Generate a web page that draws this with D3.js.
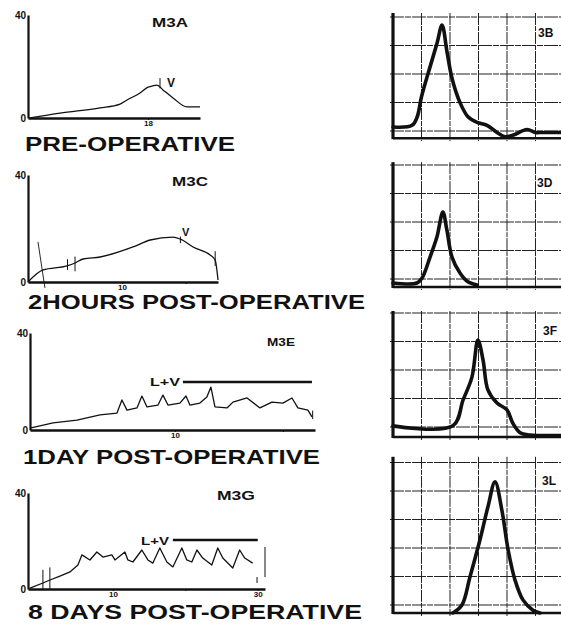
<!DOCTYPE html>
<html>
<head>
<meta charset="utf-8">
<script src="https://cdn.jsdelivr.net/npm/d3@7"></script>
<style>
body { margin: 0; background: #fff; }
text { font-family: "Liberation Sans", Arial, sans-serif; font-weight: bold; fill: #111; }
</style>
</head>
<body>
<svg width="561" height="627"></svg>
<script>
// left traces, [time, value]
var m3a = [[0.3,0],[4.8,1.9],[10.8,3.9],[13.8,5.4],[14.85,7.0],[16.8,9.7],[18,12.0],[18.6,12.4],[19.35,12.8],[20.25,10.9],[21.75,7.8],[23.85,4.3],[25.8,4.3]];
var m3c = [[0,0],[1.6,4.5],[4.15,6.0],[5.0,7.1],[5.85,8.6],[7.66,9.35],[11.17,13.1],[13.0,15.7],[15.4,16.8],[16.4,15.7],[17.55,13.1],[19.36,10.1],[19.9,8.2],[20.2,0.75]];
var m3e = [[0,0.8],[1.59,2.9],[3.24,4.1],[4.83,6.2],[6.0,7.0],[6.34,12.4],[6.69,8.2],[7.38,9.1],[7.72,14.0],[8.07,9.5],[8.83,10.3],[9.17,14.4],[9.52,10.3],[10.34,11.1],[10.76,14.0],[11.03,10.3],[11.72,11.1],[12.2,13.6],[12.48,17.7],[12.76,9.5],[13.59,9.1],[14.0,11.5],[14.97,13.2],[15.86,9.1],[16.69,11.5],[17.45,11.1],[18.07,13.2],[18.48,9.1],[19.17,8.2],[19.45,5.4]];
var m3g = [[-1.45,0.4],[0.34,2.5],[1.31,3.75],[2.69,5.4],[4.07,7.1],[5.17,10.0],[5.72,14.2],[6.83,12.1],[7.79,15.4],[8.62,13.3],[9.86,14.2],[10.28,12.1],[11.66,15.4],[12.07,12.1],[12.76,11.25],[14.0,16.25],[14.83,12.1],[15.52,10.8],[16.48,17.1],[17.45,11.25],[18.28,9.2],[19.52,17.1],[20.2,12.1],[20.9,11.25],[21.6,16.25],[22.4,12.9],[23.65,10.0],[24.48,17.1],[25.17,12.9],[26.55,8.75],[27.5,16.25],[28.2,12.9],[29.3,10.8]];

// pen marks on the left traces, [x, y1, y2]
var m3aMarks = [[19.8,11.5,15.5]];
var m3cMarks = [[4.2,4.5,8.5],[5.0,4.0,9.5],[16.2,14.5,17.0],[19.9,6.0,11.5]];
var m3eMarks = [[19.5,4.5,8.0]];
var m3gMarks = [[0.34,0,8],[1.3,0,9],[29.9,2.5,5],[31,5,17.5]];

// L+V bars, [x1, x2, y]
var m3eBar = [10.55, 19.45, 19.8];
var m3gBar = [18.28, 30, 20.4];

// right traces, grid units
var r3b = [[0,0.14],[0.67,0.2],[0.85,0.5],[1.0,1.2],[1.3,2.25],[1.55,3.1],[1.72,3.72],[1.9,2.75],[2.07,1.85],[2.35,1.0],[2.63,0.5],[2.95,0.3],[3.3,0.2],[3.65,-0.05],[3.93,-0.2],[4.2,-0.15],[4.7,0.05],[5.0,-0.05],[5.25,-0.05],[5.93,-0.05]];
var r3d = [[0,-0.14],[0.84,-0.14],[1.02,0.035],[1.3,0.77],[1.54,1.47],[1.75,2.35],[1.89,1.72],[2.07,0.77],[2.35,0.21],[2.63,-0.1],[2.95,-0.21]];
var r3f = [[0,0.04],[2.1,0.04],[2.46,0.95],[2.77,1.75],[2.98,3.05],[3.16,2.35],[3.33,1.3],[3.65,0.84],[4.0,0.6],[4.2,0.14],[4.46,-0.2],[4.8,-0.28],[5.93,-0.3]];
var r3l = [[2.1,-0.28],[2.42,0],[2.7,0.98],[3.05,2.28],[3.33,3.44],[3.58,4.32],[3.82,3.33],[4.04,1.93],[4.28,0.88],[4.56,0.18],[4.91,-0.18],[5.16,-0.28]];

var svg = d3.select("svg");
var black = "#111";

function leftPanel(o) {
    var x = d3.scaleLinear().domain(o.xDom).range(o.xRange);
    var y = d3.scaleLinear().domain([0, 40]).range([o.y0, o.y40]);
    var g = svg.append("g");

    var xAxis = d3.axisBottom(x).tickValues(o.ticks).tickSize(2).tickSizeOuter(0).tickPadding(0);
    var ax = g.append("g").attr("transform", "translate(0," + o.y0 + ")").call(xAxis);
    ax.select(".domain").attr("stroke", black).attr("stroke-width", 2.5);
    ax.selectAll(".tick line").attr("stroke", black).attr("stroke-width", 1.2);
    ax.selectAll(".tick text").attr("font-size", 8).attr("fill", black)
        .attr("font-family", "Liberation Sans").attr("font-weight", "bold")
        .text(function(d, i) { return o.tickText[i]; });

    var yAxis = d3.axisLeft(y).tickValues([0, 40]).tickSize(0).tickPadding(2).tickSizeOuter(0);
    var ay = g.append("g").attr("transform", "translate(" + o.xRange[0] + ",0)").call(yAxis);
    ay.select(".domain").attr("stroke", black).attr("stroke-width", 2.2);
    ay.selectAll(".tick text").attr("font-size", 10).attr("fill", black)
        .attr("font-family", "Liberation Sans").attr("font-weight", "bold");

    var line = d3.line()
        .x(function(d) { return x(d[0]); })
        .y(function(d) { return y(d[1]); })
        .curve(o.smooth ? d3.curveMonotoneX : d3.curveLinear);

    g.append("path").datum(o.data)
        .attr("fill", "none").attr("stroke", black)
        .attr("stroke-width", 1.3).attr("stroke-linejoin", "round")
        .attr("d", line);

    g.selectAll("line.mark").data(o.marks).enter().append("line")
        .attr("class", "mark")
        .attr("x1", function(d) { return x(d[0]); }).attr("x2", function(d) { return x(d[0]); })
        .attr("y1", function(d) { return y(d[1]); }).attr("y2", function(d) { return y(d[2]); })
        .attr("stroke", black).attr("stroke-width", 1);

    if (o.bar) {
        g.append("line")
            .attr("x1", x(o.bar[0])).attr("x2", x(o.bar[1]))
            .attr("y1", y(o.bar[2])).attr("y2", y(o.bar[2]))
            .attr("stroke", black).attr("stroke-width", 2.5);
    }
    return { g: g, x: x, y: y };
}

var pA = leftPanel({ data: m3a, marks: m3aMarks, xDom: [0, 25.8], xRange: [28, 200], y0: 118, y40: 15, ticks: [18], tickText: ["18"], smooth: true });
var pC = leftPanel({ data: m3c, marks: m3cMarks, xDom: [0, 20.2], xRange: [28, 218], y0: 282, y40: 175, ticks: [10, 16.8], tickText: ["10", ""], smooth: true });
var pE = leftPanel({ data: m3e, marks: m3eMarks, bar: m3eBar, xDom: [0, 19.66], xRange: [30, 315], y0: 430, y40: 333, ticks: [10, 17.45], tickText: ["10", ""], smooth: false });
var pG = leftPanel({ data: m3g, marks: m3gMarks, bar: m3gBar, xDom: [-1.72, 31], xRange: [28, 265], y0: 589, y40: 493, ticks: [10, 20, 30], tickText: ["10", "", "30"], smooth: false });

// the pen stroke across the start of M3C
pC.g.append("line")
    .attr("x1", pC.x(1.06)).attr("y1", pC.y(15))
    .attr("x2", pC.x(1.8)).attr("y2", pC.y(-2.2))
    .attr("stroke", black).attr("stroke-width", 0.9);

function label(t, x, y, size, len) {
    var el = svg.append("text").attr("x", x).attr("y", y).attr("font-size", size).text(t);
    if (len) el.attr("textLength", len).attr("lengthAdjust", "spacingAndGlyphs");
    return el;
}

label("M3A", 152, 27, 12, 36);
label("M3C", 172, 186, 12, 36);
label("M3E", 267, 346, 11, 28);
label("M3G", 217, 500, 12, 38);
label("V", 167, 87, 12);
label("V", 182, 236, 11);
label("L+V", 150, 386, 11, 30);
label("L+V", 141, 545, 11, 28);

label("PRE-OPERATIVE", 25, 151, 20, 210);
label("2HOURS POST-OPERATIVE", 28, 309, 20, 337);
label("1DAY POST-OPERATIVE", 23, 464, 20, 297);
label("8 DAYS POST-OPERATIVE", 28, 619, 20, 334);

// right grid panels
var cell = 28.5;
function rightPanel(o) {
    var x = d3.scaleLinear().domain([0, 5.93]).range([393, 562]);
    var y = d3.scaleLinear().domain([0, o.rows]).range([o.y0, o.y0 - o.rows * cell]);
    var g = svg.append("g");

    var xt = d3.range(1, 6);
    var yt = d3.range(0, o.rows + 1);

    g.selectAll("line.v").data(xt).enter().append("line")
        .attr("x1", function(d) { return x(d); }).attr("x2", function(d) { return x(d); })
        .attr("y1", y(o.top)).attr("y2", y(o.bottom) + 3)
        .attr("stroke", "#222").attr("stroke-width", 1).attr("stroke-dasharray", "12,1,5,1");

    g.selectAll("line.h").data(yt).enter().append("line")
        .attr("x1", x(0) - 3).attr("x2", 561)
        .attr("y1", function(d) { return y(d); }).attr("y2", function(d) { return y(d); })
        .attr("stroke", "#222").attr("stroke-width", 1).attr("stroke-dasharray", "14,1,6,1");

    g.append("line")
        .attr("x1", x(0)).attr("x2", 561)
        .attr("y1", y(o.bottom)).attr("y2", y(o.bottom))
        .attr("stroke", black).attr("stroke-width", 2.5);

    g.append("line")
        .attr("x1", x(0)).attr("x2", x(0))
        .attr("y1", y(o.top)).attr("y2", y(o.bottom) + 1)
        .attr("stroke", black).attr("stroke-width", 3.2);

    var line = d3.line()
        .x(function(d) { return x(d[0]); })
        .y(function(d) { return y(d[1]); })
        .curve(d3.curveCatmullRom.alpha(0.5));

    g.append("path").datum(o.data)
        .attr("fill", "none").attr("stroke", black)
        .attr("stroke-width", 3.6).attr("stroke-linejoin", "round").attr("stroke-linecap", "round")
        .attr("d", line);

    label(o.name, o.lx, o.ly, 12);
}

rightPanel({ name: "3B", data: r3b, y0: 131, rows: 4, top: 4.14, bottom: -0.25, lx: 538, ly: 37 });
rightPanel({ name: "3D", data: r3d, y0: 279, rows: 4, top: 4.1, bottom: -0.28, lx: 537, ly: 187 });
rightPanel({ name: "3F", data: r3f, y0: 427, rows: 4, top: 4.07, bottom: -0.35, lx: 543, ly: 335 });
rightPanel({ name: "3L", data: r3l, y0: 605, rows: 5, top: 5.2, bottom: -0.28, lx: 542, ly: 485 });
</script>
</body>
</html>
